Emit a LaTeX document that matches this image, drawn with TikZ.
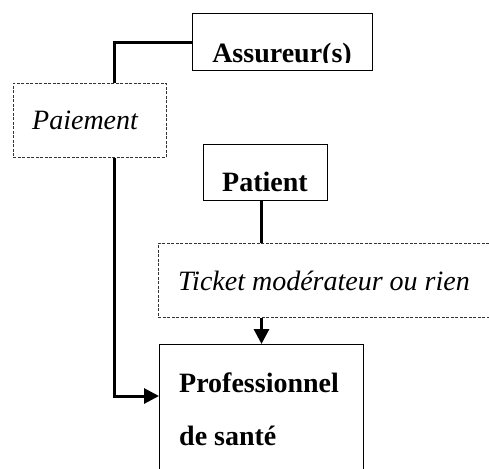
\documentclass[tikz,border=0pt]{standalone}
\usepackage{fontspec}
\setmainfont{Liberation Serif}
\usetikzlibrary{arrows.meta,calc}
\tikzset{
  solidbox/.style={draw=black, line width=1.1pt, inner sep=0pt, anchor=north west, fill=white},
  dashbox/.style={draw=black!80, line width=0.9pt, dash pattern=on 3pt off 1.5pt, inner sep=0pt, anchor=north west},
  conn/.style={line width=3pt},
  arr/.style={line width=3pt, -{Triangle[length=15pt,width=15pt]}},
  btxt/.style={font=\fontsize{28}{34}\selectfont\bfseries, inner sep=0pt},
  itxt/.style={font=\fontsize{28}{34}\selectfont\itshape, inner sep=0pt},
}
\begin{document}
\begin{tikzpicture}[x=1pt,y=-1pt]
\useasboundingbox (0,0) rectangle (489,468);
\clip (0,0) rectangle (489,468);
% boxes
\node[solidbox, minimum width=180pt, minimum height=57pt] (ass) at (192,13) {};
\node[dashbox, minimum width=153pt, minimum height=74pt] (pai) at (13,83) {};
\node[solidbox, minimum width=124pt, minimum height=56pt] (pat) at (203,144) {};
\node[dashbox, minimum width=340pt, minimum height=74pt] (tic) at (158,243) {};
\node[solidbox, minimum width=204pt, minimum height=140pt] (pro) at (159,344) {};
% texts
\begin{scope}
\clip (192,13) rectangle (372,62.6);
\node[btxt, anchor=base] (tass) at (282,62.3) {Assureur(s)};
\end{scope}
\node[itxt, anchor=base west] (tpai) at (32,129) {Paiement};
\node[btxt, anchor=base] (tpat) at (265,191) {Patient};
\node[itxt, anchor=base west] (ttic) at (178,290) {Ticket modérateur ou rien};
\node[btxt, anchor=base west] (tpro1) at (179,392) {Professionnel};
\node[btxt, anchor=base west] (tpro2) at (179,445) {de santé};
% connector coordinates
\coordinate (paitop) at ($(pai.north west)+(101,0)$);
\coordinate (paibot) at ($(pai.south west)+(101,0)$);
\coordinate (patbot) at ($(pat.south west)+(58.5,0)$);
\coordinate (tictop) at ($(tic.north west)+(103.5,0)$);
\coordinate (ticbot) at ($(tic.south west)+(103.5,0)$);
\coordinate (protop) at ($(pro.north west)+(102.5,0)$);
\coordinate (proleft) at ($(pro.north west)+(0,52)$);
% connectors
\draw[conn] (ass.west) -| (paitop);
\draw[arr] (paibot) |- (proleft);
\draw[conn] (patbot) -- (tictop);
\draw[arr] (ticbot) -- (protop);
\end{tikzpicture}
\end{document}
